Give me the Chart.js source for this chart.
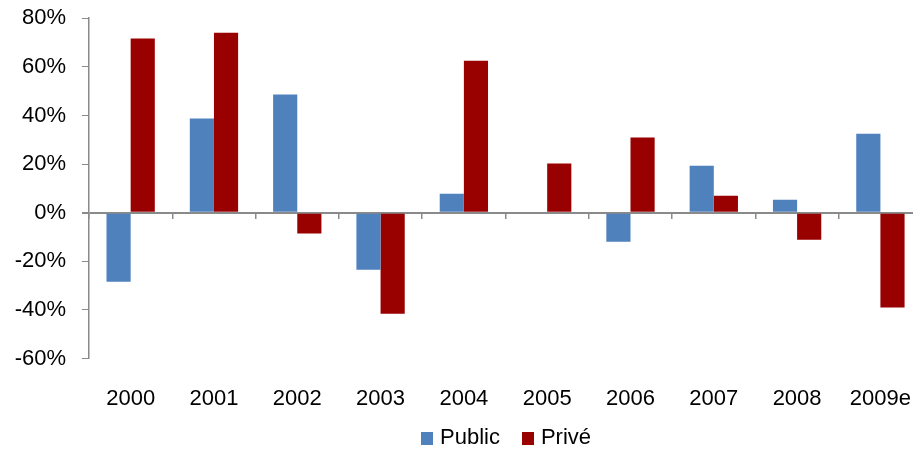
<!DOCTYPE html>
<html>
<head>
<meta charset="utf-8">
<script src="https://cdn.jsdelivr.net/npm/chart.js@4.4.0/dist/chart.umd.min.js"></script>
<style>
  html, body { margin: 0; padding: 0; background: #fff; overflow: hidden; width: 913px; height: 449px; }
  #wrap { position: absolute; left: 0; top: -11px; width: 938px; height: 450px; }
  #legend { position: absolute; left: 421px; top: 424px; font-family: "Liberation Sans", Arial, sans-serif; font-size: 22px; color: #000; white-space: nowrap; }
  #legend span.box { display: inline-block; width: 12px; height: 13px; margin-right: 7px; vertical-align: -1px; }
  #legend span.item { margin-right: 22px; }
</style>
</head>
<body>
<div id="wrap"><canvas id="chart"></canvas></div>
<div id="legend"></div>
<script>
// data
const years = ['2000', '2001', '2002', '2003', '2004', '2005', '2006', '2007', '2008', '2009e'];
const publicValues = [-28.4, 38.7, 48.6, -23.5, 7.8, 0.4, -11.9, 19.3, 5.3, 32.5];
const priveValues = [71.6, 74.0, -8.6, -41.6, 62.5, 20.2, 30.9, 7.0, -11.1, -39.0];
const seriesNames = ['Public', 'Privé'];
const seriesColors = ['#4F81BD', '#990000'];

const axisGray = '#8a8a8a';
const fontSpec = { family: '"Liberation Sans", Arial, sans-serif', size: 22 };

// html legend
const legend = document.getElementById('legend');
seriesNames.forEach((name, i) => {
    const item = document.createElement('span');
    item.className = 'item';
    item.innerHTML = '<span class="box" style="background:' + seriesColors[i] + '"></span>' + name;
    legend.appendChild(item);
});

const ctx = document.getElementById('chart').getContext('2d');
new Chart(ctx, {
    type: 'bar',
    data: {
        labels: years,
        datasets: [{
            label: seriesNames[0],
            data: publicValues,
            backgroundColor: seriesColors[0],
            categoryPercentage: 0.58,
            barPercentage: 1.0
        }, {
            label: seriesNames[1],
            data: priveValues,
            backgroundColor: seriesColors[1],
            categoryPercentage: 0.58,
            barPercentage: 1.0
        }]
    },
    options: {
        responsive: true,
        maintainAspectRatio: false,
        animation: false,
        layout: { padding: { top: 6, right: 0, bottom: 0, left: 0 } },
        plugins: {
            legend: { display: false },
            tooltip: { enabled: false }
        },
        scales: {
            x: {
                position: 'bottom',
                border: { display: false },
                grid: { display: false, drawTicks: false },
                ticks: {
                    color: '#000',
                    font: fontSpec,
                    padding: 27,
                    maxRotation: 0,
                    autoSkip: false
                }
            },
            // tick marks along the zero line
            xz: {
                type: 'category',
                labels: years,
                position: { y: 0 },
                offset: true,
                border: { display: false },
                grid: {
                    offset: true,
                    drawOnChartArea: false,
                    drawTicks: true,
                    tickLength: 6,
                    color: axisGray,
                    lineWidth: 1.5
                },
                ticks: { display: false }
            },
            y: {
                min: -60,
                max: 80,
                border: { display: true, color: axisGray, width: 1.5 },
                grid: {
                    drawOnChartArea: true,
                    drawTicks: true,
                    tickLength: 7,
                    tickColor: axisGray,
                    color: c => c.tick && c.tick.value === 0 ? axisGray : 'rgba(0,0,0,0)',
                    lineWidth: c => c.tick && c.tick.value === 0 ? 2 : 1
                },
                ticks: {
                    stepSize: 20,
                    color: '#000',
                    font: fontSpec,
                    padding: 16,
                    callback: v => v + '%'
                },
                afterFit: scale => { scale.width = 89; }
            }
        }
    }
});
</script>
</body>
</html>
